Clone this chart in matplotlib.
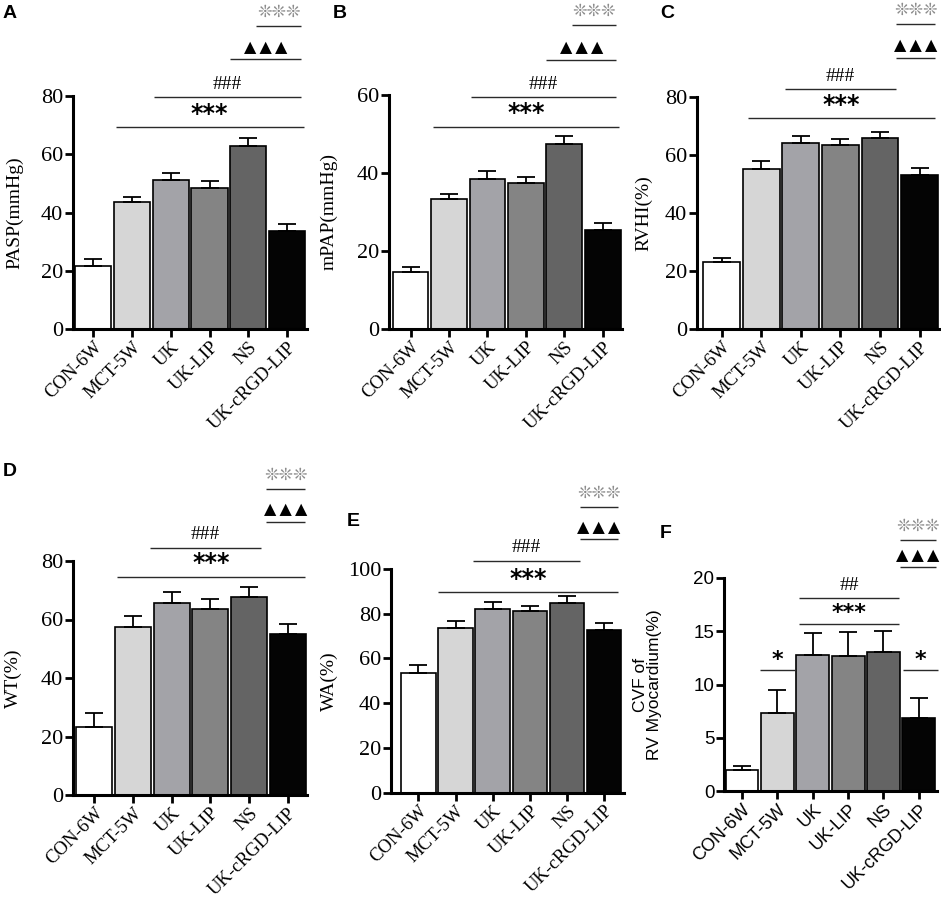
import numpy as np
import matplotlib.pyplot as plt
from matplotlib import transforms

groups = ['CON-6W', 'MCT-5W', 'UK', 'UK-LIP', 'NS', 'UK-cRGD-LIP']
bar_colors = ['#ffffff', '#d6d6d6', '#a3a3a8', '#848484', '#646464', '#040404']

# values (mean, upper SD)
pasp = [21.7, 43.7, 51.1, 48.4, 62.9, 33.8]
pasp_err = [2.3, 1.7, 2.3, 2.5, 2.7, 2.2]
mpap = [14.5, 33.3, 38.4, 37.4, 47.5, 25.5]
mpap_err = [1.4, 1.2, 2.2, 1.7, 1.9, 1.6]
rvhi = [23.0, 55.2, 64.0, 63.3, 65.8, 53.2]
rvhi_err = [1.6, 2.7, 2.4, 2.2, 2.2, 2.3]
wt = [23.4, 57.5, 65.8, 63.6, 67.6, 54.9]
wt_err = [4.5, 3.8, 3.5, 3.4, 3.6, 3.7]
wa = [53.4, 73.5, 82.1, 81.2, 84.6, 72.6]
wa_err = [3.7, 3.4, 3.3, 2.3, 3.3, 3.1]
cvf = [1.97, 7.37, 12.76, 12.66, 13.04, 6.9]
cvf_err = [0.38, 2.13, 2.04, 2.24, 1.96, 1.8]

SERIF = 'Liberation Serif'
SANS = 'Liberation Sans'
W, H = 941, 907


def px_rect(left, top, right, bottom):
    return [left / W, 1 - bottom / H, (right - left) / W, (bottom - top) / H]


# (label, rect, xlim, ymax, ystep, values, errors, ylabel, font, sig lines,
#  letter pos, ylabel x)
panels = [
    ('A', px_rect(73, 96, 306.5, 329), (-0.52, 5.5), 80, 20, pasp, pasp_err,
     'PASP(mmHg)', SERIF,
     [('***', 0.58, 5.43, 0.868), ('###', 1.56, 5.36, 0.994),
      ('tri', 3.54, 5.36, 1.157), ('flo', 4.2, 5.36, 1.302)], (3, 5), -0.214),
    ('B', px_rect(389, 95, 622, 329), (-0.56, 5.5), 60, 20, mpap, mpap_err,
     'mPAP(mmHg)', SERIF,
     [('***', 0.58, 5.43, 0.865), ('###', 1.56, 5.35, 0.99),
      ('tri', 3.53, 5.35, 1.151), ('flo', 4.21, 5.35, 1.298)], (333, 5), -0.219),
    ('C', px_rect(697, 97, 939.5, 329), (-0.62, 5.5), 80, 20, rvhi, rvhi_err,
     'RVHI(%)', SERIF,
     [('***', 0.67, 5.39, 0.909), ('###', 1.6, 4.41, 1.035),
      ('tri', 4.41, 5.39, 1.168), ('flo', 4.41, 5.39, 1.315)], (660, 5), -0.185),
    ('D', px_rect(73, 561, 307, 795), (-0.55, 5.5), 80, 20, wt, wt_err,
     'WT(%)', SERIF,
     [('***', 0.59, 5.46, 0.933), ('###', 1.43, 4.3, 1.057),
      ('tri', 4.43, 5.46, 1.167), ('flo', 4.43, 5.46, 1.308)], (3, 463), -0.218),
    ('E', px_rect(391, 569, 623.5, 792.7), (-0.74, 5.52), 100, 20, wa, wa_err,
     'WA(%)', SERIF,
     [('***', 0.53, 5.38, 0.897), ('###', 1.48, 4.35, 1.037),
      ('tri', 4.35, 5.36, 1.133), ('flo', 4.35, 5.36, 1.279)], (347, 513), -0.228),
    ('F', px_rect(724, 578, 936.5, 791), (-0.51, 5.5), 20, 5, cvf, cvf_err,
     'CVF of\nRV Myocardium(%)', SANS,
     [('*', 0.5, 1.51, 0.566), ('*', 4.56, 5.55, 0.566),
      ('***', 1.6, 4.45, 0.785), ('##', 1.6, 4.45, 0.906),
      ('tri', 4.47, 5.49, 1.05), ('flo', 4.47, 5.49, 1.18)], (660, 525), -0.292),
]


def add_sig(ax, x0, x1, yf, kind, sans):
    trans = transforms.blended_transform_factory(ax.transData, ax.transAxes)
    ax.plot([x0, x1], [yf, yf], transform=trans, color='#2a2a2a', lw=1.0,
            clip_on=False, solid_capstyle='butt')
    xm = (x0 + x1) / 2
    if kind == 'tri':
        txt = '\u25b2\u2009\u25b2\u2009\u25b2'
        kw, off = dict(family='DejaVu Sans', size=11.5), 5.5
    elif kind == 'flo':
        txt = '\u274a\u274a\u274a'
        kw, off = dict(family='DejaVu Sans', size=12.5, color='#8c8c8c'), 6.5
    elif kind.startswith('#'):
        txt, kw, off = kind, dict(family=SERIF, size=14), 6
    else:
        txt = kind
        kw, off = dict(family='DejaVu Sans', size=17, weight='bold'), 4.5
        if sans:
            kw['size'] = 16
            off = 3.5
    ax.annotate(txt, xy=(xm, yf), xycoords=trans, xytext=(0, off),
                textcoords='offset points', ha='center', va='baseline',
                annotation_clip=False, **kw)


fig = plt.figure(figsize=(W / 100, H / 100), dpi=100)

for (letter, rect, xlim, ymax, ystep, vals, errs, ylab, font, sigs,
     lpos, ylab_x) in panels:
    ax = fig.add_axes(rect)
    sans = font == SANS
    x = np.arange(len(groups))
    ax.bar(x, vals, width=0.93, color=bar_colors, edgecolor='black',
           linewidth=1.2, zorder=2)
    ax.errorbar(x, vals, yerr=[np.zeros(len(vals)), errs], fmt='none',
                ecolor='black', elinewidth=1.3, capsize=6.5, capthick=1.3,
                zorder=3)
    ax.set_xlim(*xlim)
    ax.set_ylim(0, ymax)
    ax.set_yticks(np.arange(0, ymax + 0.1, ystep))
    ax.set_xticks(x)
    for s in ['top', 'right']:
        ax.spines[s].set_visible(False)
    for s in ['left', 'bottom']:
        ax.spines[s].set_linewidth(2.2)
    ax.tick_params(axis='both', width=2, length=6, direction='out', pad=1)
    ysize = 13.5 if sans else 16
    xsize = 13 if sans else 13.5
    ax.set_yticklabels([f'{v:g}' for v in ax.get_yticks()],
                       family=font, size=ysize)
    ax.set_xticklabels(groups, rotation=45, ha='right',
                       rotation_mode='anchor', family=font, size=xsize)
    ax.set_ylabel(ylab, family=font, size=12.5 if sans else 14,
                  linespacing=0.95)
    ax.yaxis.set_label_coords(ylab_x, 0.5)
    for kind, x0, x1, yf in sigs:
        add_sig(ax, x0, x1, yf, kind, sans)
    fig.text(lpos[0] / W, 1 - lpos[1] / H, letter, family=SANS,
             weight='bold', size=14, ha='left', va='top')

fig.savefig('out.png', dpi=100)
